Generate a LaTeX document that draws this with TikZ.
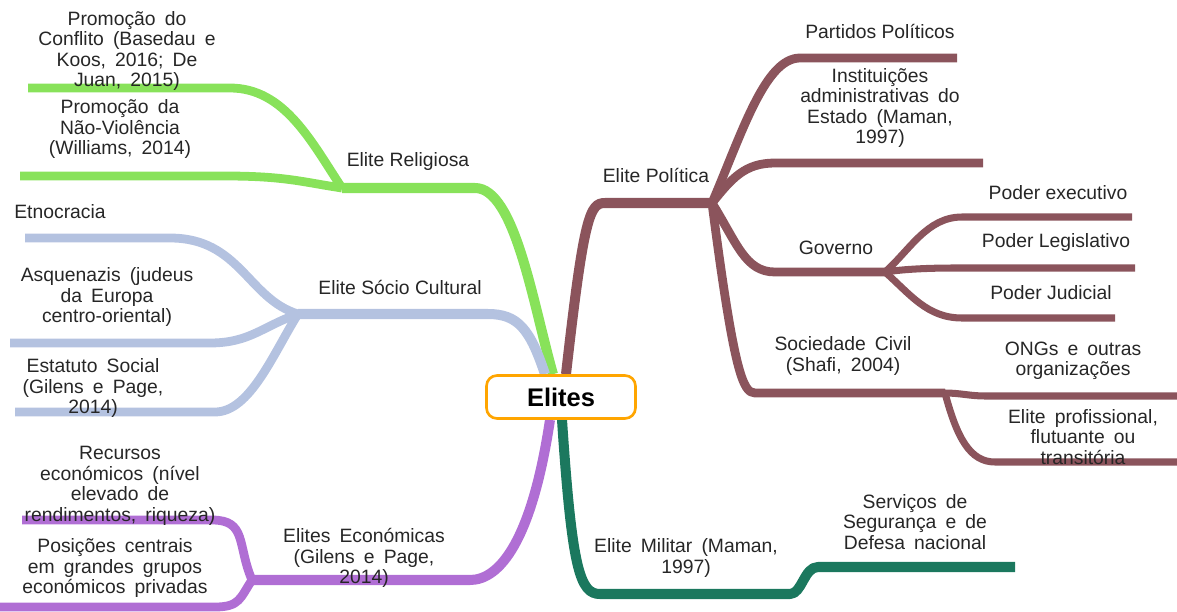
\documentclass[tikz,border=0pt]{standalone}
\usepackage{fontspec}
\setmainfont{Liberation Sans}
\newfontfamily\widefont[WordSpace=1.7]{Liberation Sans}
\usetikzlibrary{calc}
\definecolor{relig}{RGB}{136,226,90}
\definecolor{socio}{RGB}{180,194,224}
\definecolor{econ}{RGB}{176,110,212}
\definecolor{milit}{RGB}{27,120,94}
\definecolor{polit}{RGB}{139,84,92}
\definecolor{orbox}{RGB}{255,165,0}
\pgfdeclarelayer{bg}
\pgfsetlayers{bg,main}
\begin{document}
\begin{tikzpicture}[x=0.02cm, y=-0.02cm,
      txt/.style={text=black!85, font=\fontsize{11}{11.7}\selectfont, align=center, inner sep=0pt},
      wide/.style={txt, font=\widefont\fontsize{11}{11.7}\selectfont},
      main/.style={line width=5.7pt, line join=round},
      sub/.style={line width=5pt, line join=round},
      subsub/.style={line width=4pt, line join=round},
      root/.style={draw=orbox, line width=1.5pt, rounded corners=6pt, fill=white,
        minimum width=2.98cm, minimum height=0.86cm, inner sep=0pt,
        font=\fontsize{14.5}{16}\selectfont\bfseries}]
    \useasboundingbox (0,0) rectangle (1177,612);
    \node[root] (elites) at (561,397) {Elites};

    \node[wide] (promconf) at (127,51) {Promoção do\\Conflito (Basedau e\\Koos, 2016; De\\Juan, 2015)};
    \node[wide] (promnv) at (120,129) {Promoção da\\Não-Violência\\(Williams, 2014)};
    \node[txt] (religiosa) at (408,162) {Elite Religiosa};
    \node[txt] (etno) at (60,212) {Etnocracia};
    \node[wide] (asquen) at (107,297) {Asquenazis (judeus\\da Europa\\centro-oriental)};
    \node[wide] (estatuto) at (93,388) {Estatuto Social\\(Gilens e Page,\\2014)};
    \node[txt] (sociocult) at (400,287) {Elite Sócio Cultural};
    \node[wide] (recursos) at (120,486) {Recursos\\económicos (nível\\elevado de\\rendimentos, riqueza)};
    \node[wide] (posicoes) at (115,568) {Posições centrais\\em grandes grupos\\económicos privadas};
    \node[wide] (economicas) at (364,558) {Elites Económicas\\(Gilens e Page,\\2014)};
    \node[wide] (militar) at (686,558) {Elite Militar (Maman,\\1997)};
    \node[wide] (servicos) at (915,522) {Serviços de\\Segurança e de\\Defesa nacional};
    \node[txt] (politica) at (656,175) {Elite Política};
    \node[txt] (partidos) at (880,31) {Partidos Políticos};
    \node[wide] (instit) at (880,108) {Instituições\\administrativas do\\Estado (Maman,\\1997)};
    \node[txt] (governo) at (836,248) {Governo};
    \node[txt] (executivo) at (1058,193) {Poder executivo};
    \node[txt] (legislativo) at (1056,243) {Poder Legislativo};
    \node[txt] (judicial) at (1051,293) {Poder Judicial};
    \node[wide] (sociedade) at (843,356) {Sociedade Civil\\(Shafi, 2004)};
    \node[wide] (ongs) at (1073,361) {ONGs e outras\\organizações};
    \node[wide] (elitepro) at (1083,437) {Elite profissional,\\flutuante ou\\transitória};

    \coordinate (relhub) at (342,188);
    \coordinate (relk) at (475,188);
    \coordinate (rel1k) at (230,88);
    \coordinate (rel1e) at (28,88);
    \coordinate (rel2k) at (225,176);
    \coordinate (rel2e) at (20,176);
    \coordinate (sochub) at (298,314);
    \coordinate (sock) at (488,314);
    \coordinate (soc1k) at (170,238);
    \coordinate (soc1e) at (25,238);
    \coordinate (soc2k) at (210,343);
    \coordinate (soc2e) at (10,343);
    \coordinate (soc3k) at (215,412);
    \coordinate (soc3e) at (15,412);
    \coordinate (echub) at (252,580);
    \coordinate (eck) at (470,580);
    \coordinate (ec1k) at (212,520);
    \coordinate (ec1e) at (22,520);
    \coordinate (ec2k) at (215,607);
    \coordinate (ec2e) at (0,607);
    \coordinate (milk) at (600,594);
    \coordinate (milhub) at (790,594);
    \coordinate (mil1k) at (818,567);
    \coordinate (mil1e) at (1015,567);
    \coordinate (polk) at (605,203);
    \coordinate (polhub) at (712,203);
    \coordinate (pol1k) at (800,58);
    \coordinate (pol1e) at (957,58);
    \coordinate (pol2k) at (775,163);
    \coordinate (pol2e) at (983,163);
    \coordinate (govk) at (775,272);
    \coordinate (govhub) at (885,272);
    \coordinate (gov1k) at (962,217);
    \coordinate (gov1e) at (1132,217);
    \coordinate (gov2k) at (955,268);
    \coordinate (gov2e) at (1135,268);
    \coordinate (gov3k) at (962,318);
    \coordinate (gov3e) at (1115,318);
    \coordinate (civk) at (755,393);
    \coordinate (civhub) at (945,393);
    \coordinate (civ1k) at (985,396);
    \coordinate (civ1e) at (1177,396);
    \coordinate (civ2k) at (995,462);
    \coordinate (civ2e) at (1177,462);

    \begin{pgfonlayer}{bg}
    \draw[main, relig] ($(elites.north)+(-8,0)$) .. controls +(-20,-70) and +(40,0) .. (relk) -- (relhub);
    \draw[sub, relig] (relhub) .. controls +(-30,-45) and +(55,0) .. (rel1k) -- (rel1e);
    \draw[sub, relig] (relhub) .. controls +(-40,-6) and +(60,0) .. (rel2k) -- (rel2e);

    \draw[main, socio] ($(elites.north)+(-16,0)$) .. controls +(-15,-45) and +(30,0) .. (sock) -- (sochub);
    \draw[sub, socio] (sochub) .. controls +(-50,-15) and +(70,0) .. (soc1k) -- (soc1e);
    \draw[sub, socio] (sochub) .. controls +(-35,12) and +(40,0) .. (soc2k) -- (soc2e);
    \draw[sub, socio] (sochub) .. controls +(-25,40) and +(35,0) .. (soc3k) -- (soc3e);

    \draw[main, econ] ($(elites.south)+(-11,0)$) .. controls +(-18,120) and +(30,0) .. (eck) -- (echub);
    \draw[sub, econ] (echub) .. controls +(-15,-35) and +(35,0) .. (ec1k) -- (ec1e);
    \draw[sub, econ] (echub) .. controls +(-12,18) and +(25,0) .. (ec2k) -- (ec2e);

    \draw[main, milit] ($(elites.south)+(1,0)$) .. controls +(10,150) and +(-20,0) .. (milk) -- (milhub)
      .. controls +(12,0) and +(-14,0) .. (mil1k) -- (mil1e);

    \draw[main, polit] ($(elites.north)+(5,0)$) .. controls +(18,-160) and +(-15,0) .. (polk) -- (polhub);
    \draw[sub, polit] (polhub) .. controls +(30,-70) and +(-35,0) .. (pol1k) -- (pol1e);
    \draw[sub, polit] (polhub) .. controls +(20,-25) and +(-30,0) .. (pol2k) -- (pol2e);
    \draw[sub, polit] (polhub) .. controls +(25,40) and +(-30,0) .. (govk) -- (govhub);
    \draw[sub, polit] (polhub) .. controls +(22,170) and +(-12,0) .. (civk) -- (civhub);
    \draw[subsub, polit] (govhub) .. controls +(25,-22) and +(-35,0) .. (gov1k) -- (gov1e);
    \draw[subsub, polit] (govhub) .. controls +(20,-3) and +(-25,0) .. (gov2k) -- (gov2e);
    \draw[subsub, polit] (govhub) .. controls +(25,22) and +(-35,0) .. (gov3k) -- (gov3e);
    \draw[subsub, polit] (civhub) .. controls +(15,0) and +(-15,0) .. (civ1k) -- (civ1e);
    \draw[subsub, polit] (civhub) .. controls +(12,45) and +(-25,0) .. (civ2k) -- (civ2e);
    \end{pgfonlayer}
  \end{tikzpicture}
\end{document}
